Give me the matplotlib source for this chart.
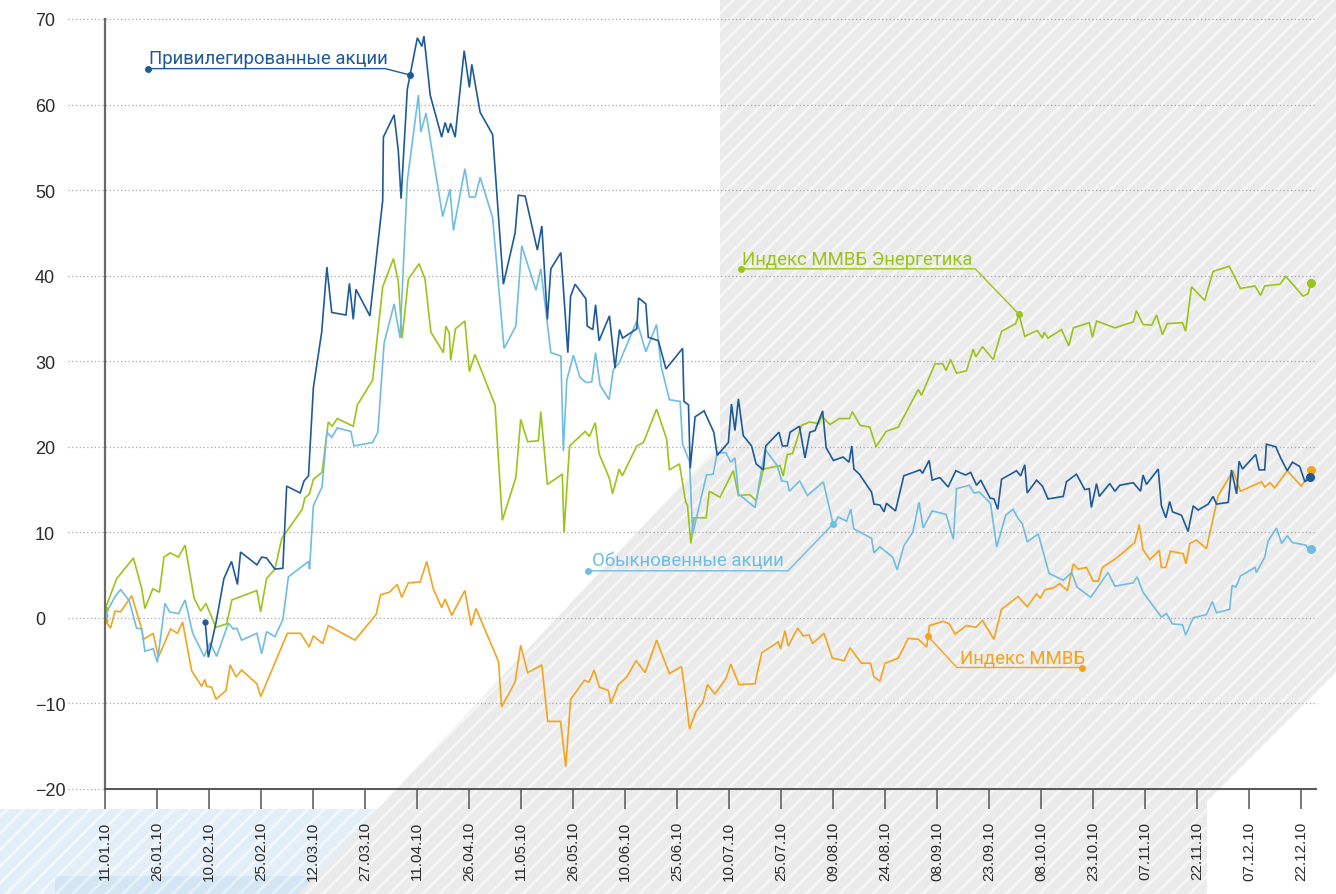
import matplotlib
matplotlib.use('Agg')
import matplotlib.pyplot as plt
from matplotlib.patches import Polygon, Rectangle
import numpy as np
import pandas as pd

plt.rcParams['font.family'] = ['Liberation Sans', 'DejaVu Sans']
plt.rcParams['hatch.linewidth'] = 2.0

# start of the period, all x values are days since this date
START = pd.Timestamp('2010-01-11')

# Индекс ММВБ Энергетика
energy_days = [0, 3.4, 8.2, 10.6, 11.5, 13.8, 15.7, 17.0, 18.8, 21.2, 23.1, 25.7, 27.6, 29.1, 32.0, 35.1,
               36.6, 43.8, 44.9, 46.6, 49.0, 51.0, 56.9, 57.6, 59.0, 60.1, 62.6, 64.4, 65.5, 67.0, 71.6,
               72.8, 77.2, 80.1, 83.2, 84.6, 85.7, 87.5, 90.6, 92.3, 94.0, 97.6, 98.3, 99.3, 99.7, 101.1,
               103.8, 105.1, 106.7, 112.5, 114.6, 118.5, 119.9, 121.9, 125.0, 125.7, 127.6, 131.9, 132.4,
               134.0, 138.5, 139.7, 141.4, 142.5, 145.5, 146.4, 148.3, 149.2, 153.4, 155.3, 159.1, 162.0,
               162.8, 165.7, 167.5, 168.0, 169.0, 169.9, 173.4, 174.3, 177.4, 181.2, 182.7, 186.0, 187.8,
               189.9, 194.7, 195.6, 196.8, 198.3, 200.9, 203.3, 205.9, 206.7, 209.1, 211.8, 214.7, 215.6,
               217.8, 220.6, 222.4, 225.3, 228.8, 234.6, 235.5, 239.4, 241.6, 242.6, 243.9, 245.6, 248.5,
               250.4, 251.2, 253.1, 256.2, 258.6, 262.7, 263.6, 265.3, 268.9, 270.4, 270.9, 272.0, 275.9,
               278.0, 279.3, 283.9, 284.8, 286.0, 291.3, 296.6, 297.5, 299.4, 301.9, 303.3, 305.0, 306.4,
               310.8, 311.7, 313.4, 317.2, 319.6, 324.3, 327.5, 331.7, 333.3, 334.5, 338.9, 340.6, 345.6,
               347.0, 348.0]
energy_vals = [1.0, 4.6, 7.0, 3.4, 1.1, 3.4, 3.0, 7.1, 7.6, 7.1, 8.5, 2.3, 0.8, 1.7, -1.1, -0.7,
               2.1, 3.2, 0.7, 4.6, 5.7, 9.3, 12.7, 14.0, 14.5, 16.2, 17.0, 22.9, 22.4, 23.3, 22.4,
               24.9, 27.8, 38.7, 42.0, 39.3, 32.7, 39.6, 41.4, 39.6, 33.4, 31.0, 34.1, 33.3, 30.1, 33.8,
               34.7, 28.8, 30.8, 24.9, 11.4, 16.4, 23.2, 20.6, 20.7, 24.1, 15.6, 16.8, 10.0,
               20.1, 21.8, 21.2, 22.8, 19.2, 16.3, 14.5, 17.4, 16.6, 20.1, 20.5, 24.4, 20.9,
               17.3, 18.0, 13.5, 13.2, 8.7, 11.7, 11.7, 14.8, 14.1, 17.2, 14.3, 14.4, 13.7,
               17.4, 17.8, 16.6, 19.1, 19.2, 22.5, 22.9, 22.7, 23.6, 22.6, 23.3, 23.3, 24.1,
               22.5, 22.3, 20.0, 21.8, 22.3, 26.7, 26.0, 29.7, 29.7, 28.9, 30.2, 28.6, 28.9,
               31.4, 30.5, 31.7, 30.2, 33.5, 34.4, 35.5, 32.9, 33.6, 32.7, 33.4, 32.7, 33.7,
               31.8, 33.9, 34.5, 32.8, 34.7, 33.9, 34.6, 35.9, 34.3, 34.2, 35.4, 33.1, 34.4,
               34.5, 33.5, 38.7, 37.1, 40.5, 41.1, 38.5, 38.8, 37.7, 38.8, 39.0, 39.9, 37.6,
               37.9, 39.2]

# Обыкновенные акции
common_days = [0, 2.9, 4.5, 7.0, 9.1, 10.6, 11.5, 13.9, 15.1, 17.3, 18.6, 21.2, 23.1, 25.3, 28.6, 30.3,
               32.2, 35.6, 37.0, 38.0, 39.4, 43.8, 45.2, 46.6, 49.0, 51.3, 52.9, 58.7, 59.0, 60.1, 62.6,
               64.0, 65.4, 67.0, 70.9, 71.8, 77.2, 78.7, 80.5, 83.4, 85.1, 87.2, 90.4, 91.1, 92.6, 97.4,
               99.5, 100.5, 103.8, 105.1, 106.8, 108.2, 111.8, 115.1, 118.5, 120.2, 124.3, 125.7, 128.6,
               131.5, 132.2, 133.2, 135.1, 137.0, 138.8, 140.4, 141.5, 142.8, 145.4, 146.6, 148.3, 153.4,
               156.0, 159.1, 160.4, 162.8, 165.9, 166.6, 168.6, 169.5, 173.5, 175.4, 176.6, 179.1, 180.5,
               181.7, 182.7, 187.5, 190.4, 193.9, 195.2, 196.8, 197.4, 200.4, 202.6, 207.2, 210.1, 211.5,
               213.9, 215.1, 216.0, 221.1, 221.8, 223.5, 227.2, 228.5, 230.4, 233.0, 234.8, 236.0, 238.6,
               242.6, 244.7, 245.6, 249.3, 250.6, 252.2, 255.4, 257.2, 259.8, 261.9, 263.4, 264.6, 266.0,
               269.2, 272.3, 276.4, 278.8, 280.4, 284.3, 289.3, 291.3, 296.6, 297.7, 299.4, 304.7, 306.2,
               307.9, 310.8, 311.7, 313.9, 317.7, 319.4, 320.6, 324.4, 325.1, 326.2, 327.5, 331.7, 332.1,
               334.5, 335.5, 337.9, 339.4, 341.0, 342.5, 346.4, 347.3, 348.0]
common_vals = [0.3, 2.5, 3.3, 2.0, -1.2, -1.3, -3.9, -3.6, -5.2, 1.7, 0.7, 0.5, 2.1, -1.8, -4.5, -2.9,
               -4.5, -0.6, -1.3, -1.2, -2.6, -1.8, -4.2, -1.6, -2.2, -0.2, 4.8, 6.6, 5.7, 13.1, 15.3,
               21.7, 21.1, 22.2, 21.8, 20.1, 20.5, 21.7, 32.1, 36.7, 32.7, 51.1, 61.1, 56.8, 59.0, 46.9,
               50.1, 45.3, 52.5, 49.2, 49.2, 51.5, 46.8, 31.5, 34.1, 43.5, 38.3, 40.8, 31.0,
               30.6, 19.5, 27.8, 30.7, 28.1, 27.5, 27.6, 31.0, 27.2, 25.5, 29.0, 29.8, 34.7,
               31.1, 34.3, 29.4, 25.5, 25.3, 20.3, 18.3, 9.8, 16.7, 16.8, 19.3, 19.3, 18.2,
               18.7, 14.5, 12.9, 19.7, 17.8, 16.0, 15.9, 14.8, 16.0, 14.3, 15.9, 10.8, 11.8,
               11.3, 12.7, 10.4, 9.3, 7.6, 8.3, 7.1, 5.6, 8.4, 10.0, 13.5, 10.5, 12.5,
               12.1, 9.2, 15.1, 15.5, 14.6, 14.7, 13.4, 8.3, 12.0, 12.7, 11.6, 11.0, 8.9,
               9.8, 5.2, 4.4, 5.3, 3.6, 2.4, 5.3, 3.7, 4.1, 4.8, 3.0, 0.1, 0.5,
               -0.7, -0.8, -2.0, 0.0, 0.4, 1.9, 0.6, 1.0, 3.8, 3.6, 4.9, 5.9, 5.3,
               7.1, 9.0, 10.5, 8.7, 9.6, 8.8, 8.5, 7.8, 8.1]

# Привилегированные акции
pref_days = [28.9, 29.8, 32.0, 34.3, 36.5, 38.2, 39.1, 43.8, 45.2, 46.6, 49.0, 51.3, 52.4, 56.3, 57.4,
             58.7, 60.1, 62.5, 64.0, 65.4, 69.5, 70.5, 71.6, 72.4, 76.4, 80.1, 80.3, 83.4, 84.6, 85.4,
             87.2, 90.1, 91.4, 92.0, 93.8, 97.1, 98.1, 99.0, 99.7, 101.0, 103.6, 105.1, 105.8, 108.2,
             111.8, 114.9, 118.3, 119.2, 121.2, 124.7, 126.0, 127.6, 128.6, 131.5, 133.5, 134.3, 135.6,
             138.7, 139.1, 140.7, 141.5, 142.5, 145.5, 147.1, 148.4, 149.3, 153.4, 153.9, 156.0, 156.7,
             159.6, 161.8, 166.6, 167.0, 168.3, 168.8, 170.2, 172.8, 175.6, 176.6, 179.8, 180.7, 181.7,
             182.7, 184.1, 186.5, 187.8, 189.9, 190.6, 194.4, 195.4, 196.8, 197.6, 200.3, 201.9, 203.3,
             204.8, 207.0, 208.0, 210.1, 212.9, 214.6, 215.4, 216.0, 217.6, 221.1, 221.8, 223.5, 224.7,
             225.4, 228.0, 230.4, 235.1, 235.8, 237.7, 238.6, 240.8, 243.2, 245.4, 248.2, 249.7, 251.4,
             252.6, 255.3, 256.4, 257.5, 258.6, 262.9, 264.1, 265.3, 266.0, 268.7, 270.4, 272.0, 276.4,
             277.3, 280.2, 282.6, 283.9, 284.5, 286.0, 286.8, 289.8, 291.3, 292.7, 296.6, 298.7, 299.4,
             300.4, 303.8, 304.7, 306.0, 307.1, 307.9, 310.5, 312.4, 313.9, 315.3, 318.2, 319.6, 320.6,
             324.0, 324.9, 326.4, 327.1, 328.1, 331.9, 332.9, 334.5, 335.0, 337.7, 339.1, 341.0, 342.5,
             344.6, 346.1, 347.7]
pref_vals = [-0.5, -4.6, -0.6, 4.6, 6.6, 3.9, 7.7, 6.2, 7.1, 7.0, 5.7, 5.8, 15.4, 14.6, 16.0,
             16.6, 26.9, 33.4, 41.0, 35.7, 35.4, 39.1, 34.9, 38.4, 35.3, 48.8, 56.2, 58.8, 54.6, 49.0,
             61.8, 67.8, 66.8, 68.0, 61.1, 56.2, 57.9, 56.7, 57.8, 56.2, 66.3, 62.0, 64.7, 59.1,
             56.5, 39.0, 45.0, 49.4, 49.3, 43.0, 45.8, 34.9, 40.8, 42.7, 31.0, 37.6, 39.0,
             37.3, 34.1, 33.7, 36.6, 32.4, 35.3, 29.2, 33.7, 32.7, 33.8, 37.4, 36.7, 32.8,
             32.4, 29.1, 31.5, 25.3, 24.9, 17.5, 23.5, 24.2, 21.7, 19.0, 20.5, 25.0, 21.9,
             25.6, 21.3, 20.1, 18.0, 17.3, 20.1, 21.7, 20.1, 20.1, 21.7, 22.4, 18.7, 21.7,
             21.9, 24.2, 19.9, 18.4, 18.8, 18.2, 20.1, 17.4, 16.8, 14.7, 13.3, 13.2, 12.4,
             13.4, 12.5, 16.6, 17.3, 16.9, 18.4, 16.1, 16.4, 15.3, 17.2, 16.7, 17.0, 15.5,
             16.1, 14.0, 13.9, 12.7, 16.2, 17.2, 16.6, 17.9, 14.6, 16.1, 15.4, 13.9, 14.2,
             15.9, 16.8, 15.0, 15.1, 12.9, 15.7, 14.2, 15.7, 14.8, 15.5, 15.8, 14.8, 16.7,
             15.6, 17.4, 13.1, 11.7, 13.6, 12.4, 12.0, 10.1, 13.1, 12.6, 13.3, 14.2, 13.3,
             13.5, 17.3, 14.5, 18.3, 17.4, 19.1, 17.3, 17.3, 20.3, 20.0, 18.7, 17.2, 18.2,
             17.7, 15.9, 16.5]

# Индекс ММВБ
micex_days = [0, 1.6, 2.9, 4.5, 7.7, 10.3, 11.1, 13.9, 15.4, 18.9, 20.9, 22.4, 25.0, 27.9, 28.8, 29.3,
              30.8, 32.0, 34.9, 36.1, 37.8, 39.4, 43.8, 44.9, 52.6, 56.4, 58.9, 60.1, 62.8, 64.4, 72.1,
              78.2, 79.5, 82.0, 84.3, 85.6, 87.5, 90.9, 92.8, 94.7, 97.1, 98.1, 100.0, 103.8, 105.6,
              107.0, 113.5, 114.4, 118.3, 119.9, 121.9, 126.0, 127.7, 131.4, 132.9, 134.3, 138.3, 139.6,
              141.1, 142.6, 145.2, 145.9, 148.1, 150.5, 153.2, 155.8, 159.1, 162.8, 166.3, 167.5, 168.6,
              170.5, 172.4, 173.8, 175.9, 179.1, 180.5, 182.9, 187.5, 189.4, 194.2, 194.9, 196.1, 197.1,
              199.8, 201.4, 203.1, 204.1, 207.4, 209.8, 213.2, 214.9, 218.2, 220.8, 221.8, 223.5, 225.0,
              228.8, 231.7, 234.6, 237.0, 237.8, 241.8, 243.5, 245.2, 248.5, 251.2, 253.1, 256.4, 258.6,
              260.5, 263.4, 266.0, 268.7, 269.8, 271.1, 273.5, 275.4, 277.6, 279.3, 280.7, 283.1, 285.0,
              286.5, 287.7, 291.8, 297.0, 298.3, 299.4, 301.4, 304.1, 304.7, 306.0, 307.3, 311.0, 311.8,
              312.9, 314.8, 317.7, 321.1, 325.4, 327.5, 333.6, 334.5, 336.0, 337.4, 341.0, 345.1, 348.0]
micex_vals = [-0.3, -1.2, 0.8, 0.7, 2.6, -0.9, -2.5, -1.8, -4.6, -1.3, -1.8, -0.5, -6.2, -8.0, -7.2, -8.0,
              -8.1, -9.5, -8.5, -5.5, -6.9, -6.1, -7.7, -9.2, -1.8, -1.8, -3.4, -2.1, -3.0, -0.9, -2.6,
              0.4, 2.7, 3.0, 3.9, 2.4, 4.1, 4.2, 6.6, 3.4, 1.2, 2.2, 0.3, 3.2, -0.9,
              1.1, -5.1, -10.4, -7.5, -3.2, -6.4, -5.5, -12.1, -12.1, -17.4, -9.5, -7.3, -7.5,
              -6.1, -8.1, -8.5, -10.0, -7.8, -6.9, -5.0, -6.4, -2.6, -6.5, -5.7, -9.2, -13.0,
              -10.9, -9.9, -7.8, -8.9, -7.1, -5.4, -7.8, -7.7, -4.1, -2.8, -3.6, -1.5, -3.3,
              -1.2, -2.1, -2.0, -3.0, -1.8, -4.7, -5.0, -3.5, -5.3, -5.3, -6.9, -7.4, -5.3,
              -4.7, -2.4, -2.5, -3.4, -0.9, -0.4, -0.7, -1.9, -0.9, -1.1, -0.3, -2.5, 1.0,
              1.6, 2.5, 1.3, 2.8, 2.3, 3.3, 3.5, 4.0, 3.2, 6.3, 5.7, 5.9, 4.3,
              4.3, 5.9, 7.0, 8.8, 10.9, 8.0, 6.8, 7.9, 5.9, 5.9, 7.8, 7.5, 6.3,
              8.7, 9.1, 8.1, 14.3, 17.2, 14.8, 15.9, 15.3, 15.8, 15.2, 17.2, 15.4, 17.3]

y_ticks = [-20, -10, 0, 10, 20, 30, 40, 50, 60, 70]
tick_dates = pd.date_range(START, periods=24, freq='15D')
tick_labels = list(tick_dates.strftime('%d.%m.%y'))

W, H = 1336, 895
fig = plt.figure(figsize=(W / 100, H / 100), dpi=100)


def fpt(px, py):
    # pixel position (from top left) -> figure fraction
    return (px / W, 1 - py / H)


# background: blue band under the labels and grey hatched area
blue = Rectangle(fpt(0, 895), 420 / W, 85 / H, transform=fig.transFigure,
                 facecolor='#e3eff8', edgecolor='#f3f8fc', hatch='//', lw=0, zorder=-3)
blue2 = Rectangle(fpt(55, 895), 275 / W, 18 / H, transform=fig.transFigure,
                  facecolor='#d4e6f3', edgecolor='#e6f1f8', hatch='//', lw=0, zorder=-2)
grey_pts = [(720, 0), (1336, 0), (1336, 673), (1207, 802), (1207, 895), (298, 895), (720, 445)]
grey = Polygon([fpt(x, y) for x, y in grey_pts], closed=True, transform=fig.transFigure,
               facecolor='#ebebeb', edgecolor='#f6f6f6', hatch='//', lw=0, zorder=-1)
for p in (blue, blue2, grey):
    fig.add_artist(p)

ax = fig.add_axes([105 / W, 105 / H, 1211 / W, 770 / H])
ax.patch.set_alpha(0)


def dates(days):
    return (START + pd.to_timedelta(np.asarray(days), unit='D')).values


x_end = START + pd.Timedelta(days=349.3)
ax.set_xlim(START, x_end)
ax.set_ylim(-20, 70)

# dotted grid, it starts left of the axis
left_day = -10.7
for v in y_ticks:
    ax.plot(dates([left_day, 349.6]), [v, v], ls=(0, (1, 2)), color='#a8a8a8', lw=0.9,
            clip_on=False, zorder=1)

series = [
    (micex_days, micex_vals, '#f2a41e'),
    (energy_days, energy_vals, '#9bc41b'),
    (common_days, common_vals, '#70bde2'),
    (pref_days, pref_vals, '#1f5a98'),
]
for d, v, c in series:
    x = dates(d)
    ax.plot(x, v, color=c, lw=1.2, zorder=3, solid_joinstyle='miter')
    ax.plot(x[0], v[0], 'o', color=c, ms=3.5, zorder=4)
    ax.plot(x[-1], v[-1], 'o', color=c, ms=5.5, zorder=4, clip_on=False)

# labels with leader lines
lab_font = dict(family=['Roboto', 'DejaVu Sans'], size=13.4)
labels = [
    # text, colour, series, (dot day, line y), elbow day, anchor day, text day, text y
    ('Привилегированные акции', '#1f5a98', (pref_days, pref_vals), (12.4, 64.2), 80.8, 88.0, 12.6, 64.9),
    ('Индекс ММВБ Энергетика', '#9bc41b', (energy_days, energy_vals), (183.4, 40.8), 251.0, 263.6, 183.7, 41.4),
    ('Обыкновенные акции', '#70bde2', (common_days, common_vals), (139.3, 5.5), 197.0, 210.0, 140.5, 6.2),
    ('Индекс ММВБ', '#f2a41e', (micex_days, micex_vals), (281.8, -5.8), 245.7, 237.4, 246.6, -5.3),
]
for text, c, (d, v), (dot_d, line_y), elbow_d, anch_d, tx, ty in labels:
    anch_v = np.interp(anch_d, d, v)
    ax.plot(dates([dot_d, elbow_d, anch_d]), [line_y, line_y, anch_v], color=c, lw=1.0, zorder=5)
    ax.plot(dates([dot_d, anch_d]), [line_y, anch_v], 'o', color=c, ms=4, zorder=5)
    ax.text(dates([tx])[0], ty, text, color=c, ha='left', va='baseline', zorder=5, **lab_font)

# axes styling
for s in ('top', 'right'):
    ax.spines[s].set_visible(False)
ax.spines['left'].set_color('#6a6a6a')
ax.spines['left'].set_linewidth(1.6)
ax.spines['bottom'].set_color('#555555')
ax.spines['bottom'].set_linewidth(1.4)
ax.spines['left'].set_zorder(6)
ax.spines['bottom'].set_zorder(6)

ax.set_yticks(y_ticks)
ax.set_yticklabels([str(t).replace('-', '\u2212') for t in y_ticks])
ax.tick_params(axis='y', length=0, pad=50.4, labelsize=13, labelcolor='#2b2b2b')
for lab in ax.get_yticklabels():
    lab.set_horizontalalignment('left')

ax.set_xticks(tick_dates.values)
ax.set_xticklabels(tick_labels, rotation=90)
ax.tick_params(axis='x', direction='out', length=14.4, width=1.1, color='#555555',
               pad=8.5, labelsize=11, labelcolor='#2b2b2b')

fig.savefig('out.png', dpi=100)
